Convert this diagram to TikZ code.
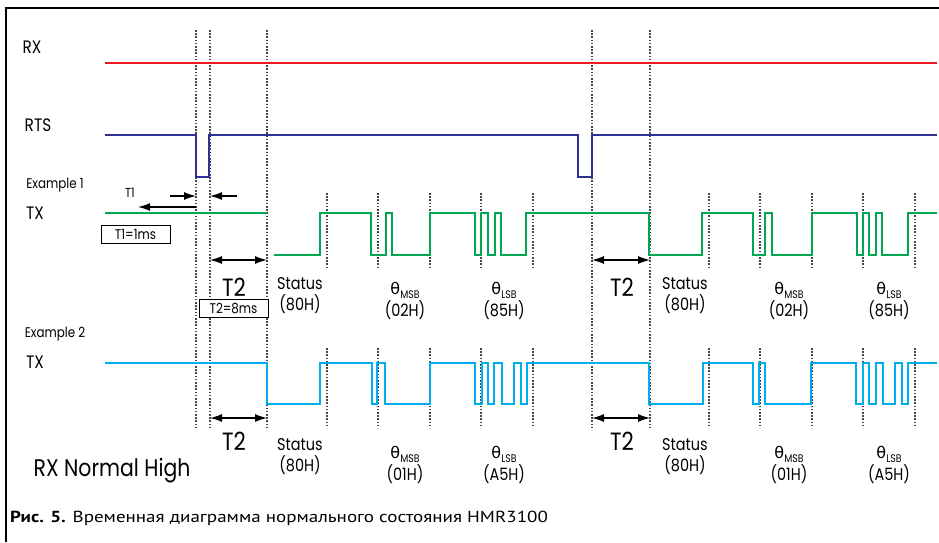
\documentclass[tikz,border=0pt]{standalone}
\usepackage{fontspec}
\usetikzlibrary{arrows.meta}
\setmainfont{Poppins}[FakeStretch=0.85]
\newfontfamily\thf{DejaVu Sans}
\newfontfamily\capf{PT Sans}
\definecolor{rxred}{RGB}{237,28,36}
\definecolor{rtsblue}{RGB}{46,49,146}
\definecolor{txgreen}{RGB}{0,166,81}
\definecolor{txcyan}{RGB}{0,174,239}
\definecolor{dotgray}{RGB}{70,70,70}
\tikzset{
  sig/.style={line width=1.8pt,line join=miter},
  dotline/.style={draw=dotgray,line width=1.1pt,dash pattern=on 1.6pt off 1.6pt},
  arr/.style={line width=1.2pt,-{Latex[length=12pt,width=8pt]}},
  darr/.style={line width=1.2pt,{Latex[length=12pt,width=8pt]}-{Latex[length=12pt,width=8pt]}},
  lbl/.style={inner sep=0pt,font=\fontsize{17}{17}\selectfont},
  big/.style={inner sep=0pt,font=\fontsize{25}{25}\selectfont},
  small/.style={inner sep=0pt,font=\fontsize{14}{14}\selectfont},
  tiny/.style={inner sep=0pt,font=\fontsize{13}{13}\selectfont},
  boxl/.style={draw,fill=white,line width=1pt,inner sep=0pt,minimum height=18pt,font=\fontsize{14}{14}\selectfont}
}
\newcommand{\thsub}[1]{{\thf\fontsize{16}{16}\selectfont θ}\raisebox{-0.45ex}{\fontsize{11}{11}\selectfont #1}}
\begin{document}
\begin{tikzpicture}[x=1pt,y=-1pt]
\useasboundingbox (0,0) rectangle (939,542);
% frame
\draw[line width=1.4pt] (6,542) -- (6,8) -- (939,8);
% long dotted lines
\foreach \x in {196,210,267,592,650} \draw[dotline] (\x,30) -- (\x,430);
% short ticks
\foreach \x in {327,378,430,481,533,709,760,812,863,915} {
  \draw[dotline] (\x,193) -- (\x,268);
  \draw[dotline] (\x,348) -- (\x,428);
}
% RX
\draw[sig,rxred] (105,63) -- (937,63);
% RTS
\draw[sig,rtsblue] (105,135) -- (196,135) -- (196,177) -- (209,177) -- (209,135) -- (578,135) -- (578,177) -- (592,177) -- (592,135) -- (937,135);
% Example 1 TX
\draw[sig,txgreen] (105,213) -- (267,213);
\draw[sig,txgreen] (274,255) -- (320,255) -- (320,213) -- (371,213) -- (371,255) -- (386,255) -- (386,213) -- (392,213) -- (392,255) -- (430,255) -- (430,213) -- (475,213) -- (475,255) -- (481,255) -- (481,213) -- (488,213) -- (488,255) -- (495,255) -- (495,213) -- (501,213) -- (501,255) -- (526,255) -- (526,213) -- (649,213) -- (649,255) -- (702,255) -- (702,213) -- (753,213) -- (753,255) -- (765,255) -- (765,213) -- (772,213) -- (772,255) -- (812,255) -- (812,213) -- (857,213) -- (857,255) -- (863,255) -- (863,213) -- (869,213) -- (869,255) -- (876,255) -- (876,213) -- (882,213) -- (882,255) -- (908,255) -- (908,213) -- (937,213);
% Example 2 TX
\draw[sig,txcyan] (105,363) -- (267,363) -- (267,404) -- (320,404) -- (320,363) -- (372,363) -- (372,404) -- (377,404) -- (377,363) -- (385,363) -- (385,404) -- (430,404) -- (430,363) -- (475,363) -- (475,404) -- (482,404) -- (482,363) -- (488,363) -- (488,404) -- (494,404) -- (494,363) -- (502,363) -- (502,404) -- (514,404) -- (514,363) -- (521,363) -- (521,404) -- (527,404) -- (527,363) -- (649,363) -- (649,404) -- (703,404) -- (703,363) -- (753,363) -- (753,404) -- (759,404) -- (759,363) -- (765,363) -- (765,404) -- (811,404) -- (811,363) -- (856,363) -- (856,404) -- (863,404) -- (863,363) -- (869,363) -- (869,404) -- (876,404) -- (876,363) -- (883,363) -- (883,404) -- (895,404) -- (895,363) -- (902,363) -- (902,404) -- (908,404) -- (908,363) -- (937,363);
% arrow coordinates
\coordinate (t1a) at (170,196); \coordinate (t1b) at (196,196);
\coordinate (t1c) at (237,196); \coordinate (t1d) at (210,196);
\coordinate (t1e) at (196,207); \coordinate (t1f) at (138,207);
\coordinate (a1l) at (210,260); \coordinate (a1r) at (267,260);
\coordinate (a2l) at (592,260); \coordinate (a2r) at (650,260);
\coordinate (a3l) at (210,418); \coordinate (a3r) at (267,418);
\coordinate (a4l) at (592,418); \coordinate (a4r) at (650,418);
\draw[arr] (t1a) -- (t1b);
\draw[arr] (t1c) -- (t1d);
\draw[arr] (t1e) -- (t1f);
\draw[darr] (a1l) -- (a1r);
\draw[darr] (a2l) -- (a2r);
\draw[darr] (a3l) -- (a3r);
\draw[darr] (a4l) -- (a4r);
% left labels
\node[lbl,font=\fontsize{18}{18}\selectfont] (lrx) at (32,47) {RX};
\node[lbl,font=\fontsize{18}{18}\selectfont] (lrts) at (38,125) {RTS};
\node[small] (lex1) at (55,185) {Example 1};
\node[lbl,font=\fontsize{18}{18}\selectfont] (ltx1) at (35,213) {TX};
\node[small] (lex2) at (55,334) {Example 2};
\node[lbl,font=\fontsize{18}{18}\selectfont] (ltx2) at (35,362) {TX};
\node[inner sep=0pt,font=\fontsize{24}{24}\selectfont] (lrxn) at (112,471) {RX Normal High};
% T labels
\node[tiny] (lt1) at (130,193) {T1};
\node[boxl,minimum width=69pt] (bt1) at (135.5,234) {T1=1ms};
\node[big] (lt2a) at (234,287) {T2};
\node[boxl,minimum width=69pt] (bt2) at (233.5,308.5) {T2=8ms};
\node[big] (lt2b) at (622,287) {T2};
\node[big] (lt2c) at (234,441) {T2};
\node[big] (lt2d) at (622,441) {T2};
% byte labels Example 1
\node[lbl] (s1a) at (300,284) {Status};
\node[lbl] (s1b) at (300,304) {(80H)};
\node[lbl] (m1a) at (405,290) {\thsub{MSB}};
\node[lbl] (m1b) at (405,310) {(02H)};
\node[lbl] (l1a) at (504,290) {\thsub{LSB}};
\node[lbl] (l1b) at (504,310) {(85H)};
\node[lbl] (s2a) at (685,284) {Status};
\node[lbl] (s2b) at (685,304) {(80H)};
\node[lbl] (m2a) at (789,290) {\thsub{MSB}};
\node[lbl] (m2b) at (789,310) {(02H)};
\node[lbl] (l2a) at (889,290) {\thsub{LSB}};
\node[lbl] (l2b) at (889,310) {(85H)};
% byte labels Example 2
\node[lbl] (s3a) at (300,445) {Status};
\node[lbl] (s3b) at (300,465) {(80H)};
\node[lbl] (m3a) at (405,454) {\thsub{MSB}};
\node[lbl] (m3b) at (405,474) {(01H)};
\node[lbl] (l3a) at (504,454) {\thsub{LSB}};
\node[lbl] (l3b) at (504,474) {(A5H)};
\node[lbl] (s4a) at (685,445) {Status};
\node[lbl] (s4b) at (685,465) {(80H)};
\node[lbl] (m4a) at (789,454) {\thsub{MSB}};
\node[lbl] (m4b) at (789,474) {(01H)};
\node[lbl] (l4a) at (889,454) {\thsub{LSB}};
\node[lbl] (l4b) at (889,474) {(A5H)};
% caption
\node[anchor=west,inner sep=0pt,font=\capf\fontsize{16}{16}\selectfont] (cap) at (10,518) {\scalebox{1.19}[1]{\textbf{Рис. 5.} Временная диаграмма нормального состояния HMR3100}};
\end{tikzpicture}
\end{document}
